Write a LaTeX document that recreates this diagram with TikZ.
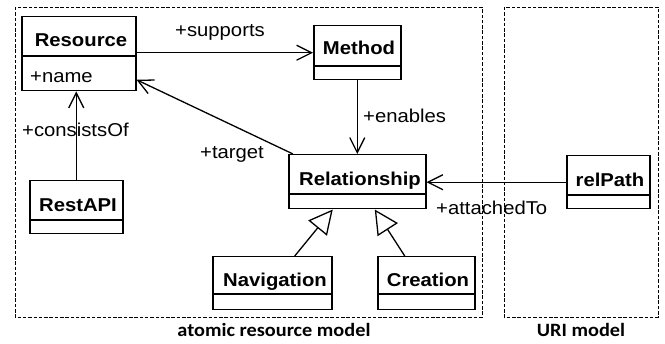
\documentclass[tikz,border=0pt]{standalone}
\usepackage{fontspec}
\setmainfont{Liberation Sans}
\newfontfamily\boxfont[FakeStretch=1.09]{Liberation Sans}
\newfontfamily\pkgfont[FakeStretch=1.08]{Carlito}
\usetikzlibrary{arrows.meta}
\begin{document}
\begin{tikzpicture}[x=1pt,y=-1pt,
  cls/.style={draw, line width=1.5pt, fill=white, anchor=north west, inner sep=0pt},
  clsname/.style={font=\boxfont\bfseries\fontsize{18.6}{20}\selectfont, inner sep=0pt, anchor=base},
  attr/.style={font=\boxfont\fontsize{18.6}{20}\selectfont, inner sep=0pt, anchor=base west},
  role/.style={font=\boxfont\fontsize{18.6}{20}\selectfont, inner sep=0pt, anchor=base west},
  divider/.style={line width=1.5pt},
  assoc/.style={line width=1.3pt, -{Straight Barb[length=15pt,width=15pt,line width=1.3pt]}},
  gen/.style={line width=1.3pt, -{Triangle[length=24pt,width=24pt,line width=1.3pt,fill=white]}},
  pkgframe/.style={draw, line width=0.85pt, dash pattern=on 3.5pt off 1.8pt},
  pkglabel/.style={font=\pkgfont\bfseries\fontsize{18.8}{20}\selectfont, inner sep=0pt, anchor=base}
]
\useasboundingbox[fill=white] (0,0) rectangle (665,344);

% package frames
\draw[pkgframe] (15,7) rectangle (482,317);
\draw[pkgframe] (504,7) rectangle (658,317);
\node[pkglabel] (pkgA) at (274,337) {atomic resource model};
\node[pkglabel] (pkgB) at (581,337) {URI model};

% classes
\node[cls, minimum width=114pt, minimum height=74pt] (res) at (21,16) {};
\draw[divider] (res.west |- 0,56) -- (res.east |- 0,56);
\node[clsname] (resn) at (81,47) {Resource};
\node[attr] (resa) at (30,83) {+name};

\node[cls, minimum width=87pt, minimum height=54pt] (meth) at (313,25) {};
\draw[divider] (meth.west |- 0,66) -- (meth.east |- 0,66);
\node[clsname] (methn) at (359,55) {Method};

\node[cls, minimum width=137pt, minimum height=54pt] (rel) at (288,154) {};
\draw[divider] (rel.west |- 0,194) -- (rel.east |- 0,194);
\node[clsname] (reln) at (360,186) {Relationship};

\node[cls, minimum width=83pt, minimum height=53pt] (rp) at (566,155) {};
\draw[divider] (rp.west |- 0,195) -- (rp.east |- 0,195);
\node[clsname] (rpn) at (610,187) {relPath};

\node[cls, minimum width=93pt, minimum height=53pt] (rest) at (29,180) {};
\draw[divider] (rest.west |- 0,220) -- (rest.east |- 0,220);
\node[clsname] (restn) at (78,212) {RestAPI};

\node[cls, minimum width=119pt, minimum height=53pt] (nav) at (212,256) {};
\draw[divider] (nav.west |- 0,294) -- (nav.east |- 0,294);
\node[clsname] (navn) at (275,287) {Navigation};

\node[cls, minimum width=97pt, minimum height=53pt] (cre) at (377,256) {};
\draw[divider] (cre.west |- 0,294) -- (cre.east |- 0,294);
\node[clsname] (cren) at (428,287) {Creation};

% associations
\draw[assoc] (res.east |- meth.west) -- (meth.west);
\node[role] (lsup) at (175,37) {+supports};

\draw[assoc] (rest.north) -- (rest.north |- res.south);
\node[role] (lcon) at (22,137) {+consistsOf};

\draw[assoc] ([xshift=5pt]rel.north west) -- ([yshift=-26pt]res.east);
\node[role] (ltar) at (200,159) {+target};

\draw[assoc] (meth.south) -- (rel.north);
\node[role] (lena) at (363,123) {+enables};

\draw[assoc] (rp.west) -- (rel.east |- rp.west);
\node[role] (latt) at (436,215) {+attachedTo};

% generalizations
\draw[gen] ([xshift=22.5pt]nav.north) -- ([xshift=-24.5pt]rel.south);
\draw[gen] ([xshift=-21.5pt]cre.north) -- ([xshift=17.5pt]rel.south);
\end{tikzpicture}
\end{document}
